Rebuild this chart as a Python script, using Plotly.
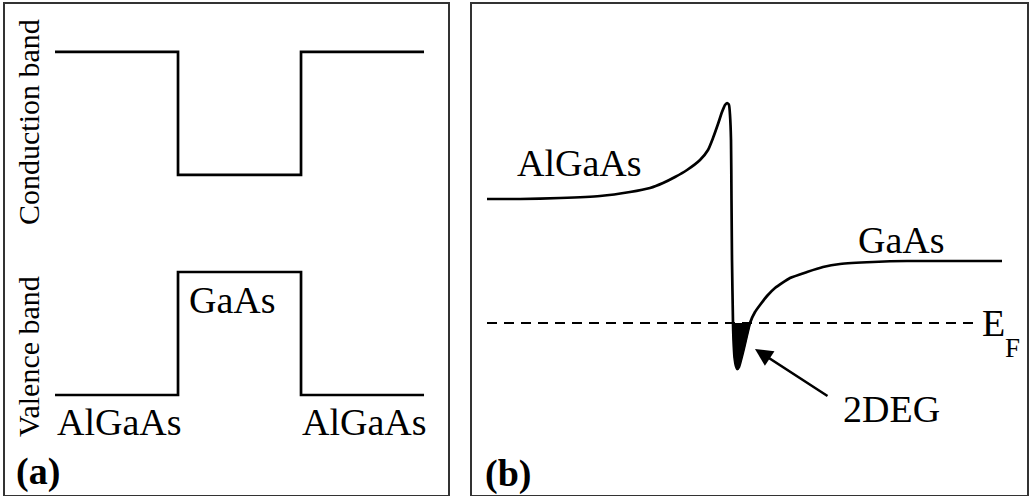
import numpy as np
import plotly.graph_objects as go

# ---------------- data ----------------
# panel (a): square-well band diagram (position units, energy units)
a_x = [0, 3, 3, 6, 6, 9]
a_conduction = [2.79, 2.79, 1.79, 1.79, 2.79, 2.79]
a_valence = [0, 0, 1, 1, 0, 0]

# panel (b): conduction band edge across the AlGaAs/GaAs heterojunction (E relative to E_F)
b_x = [-24.3, -21.0, -17.0, -13.0, -10.0, -8.0, -6.7, -5.5, -4.3, -3.0, -2.2, -1.7, -1.2,
       -0.8, -0.5, -0.3, -0.1, 0.0, 0.1, 0.15, 0.2, 0.3, 0.35, 0.45, 0.6, 0.75, 0.9, 1.1,
       1.4, 1.7, 2.0, 2.5, 3.0, 3.7, 4.5, 6.0, 7.7, 9.3, 11.0, 14.3, 17.7, 27.2]
b_E = [1.24, 1.24, 1.25, 1.27, 1.31, 1.35, 1.40, 1.46, 1.53, 1.63, 1.73, 1.85, 1.99,
       2.11, 2.18, 2.20, 2.18, 2.08, 1.83, 1.23, 0.63, 0.0, -0.17, -0.34, -0.43, -0.46,
       -0.44, -0.37, -0.25, -0.12, 0.0, 0.11, 0.18, 0.27, 0.35, 0.45, 0.51, 0.56, 0.59,
       0.61, 0.62, 0.62]
fermi_x = [-24.3, 24.5]
fermi_E = [0, 0]

FONT = "Liberation Serif"
W, H = 1029, 496

fig = go.Figure()

# panel (a)
for band in (a_conduction, a_valence):
    fig.add_trace(go.Scatter(x=a_x, y=band, mode="lines",
                             line=dict(color="black", width=2.7), xaxis="x", yaxis="y",
                             hoverinfo="skip"))

# panel (b): 2DEG fill (part of the well below E_F)
bx = np.array(b_x)
bE = np.array(b_E)
mask = (bE <= 0) & (bx > 0) & (bx < 5)
fig.add_trace(go.Scatter(x=bx[mask], y=bE[mask], mode="lines", fill="toself",
                         fillcolor="black", line=dict(color="black", width=1.5),
                         xaxis="x2", yaxis="y2", hoverinfo="skip"))
fig.add_trace(go.Scatter(x=fermi_x, y=fermi_E, mode="lines",
                         line=dict(color="black", width=2, dash="10px,7px"),
                         xaxis="x2", yaxis="y2", hoverinfo="skip"))
fig.add_trace(go.Scatter(x=b_x, y=b_E, mode="lines",
                         line=dict(color="black", width=2.7, shape="spline", smoothing=0.5),
                         xaxis="x2", yaxis="y2", hoverinfo="skip"))

ax_common = dict(showgrid=False, zeroline=False, showticklabels=False, ticks="",
                 showline=True, linecolor="#333333", linewidth=1.5, mirror=True,
                 fixedrange=True)

fig.update_layout(
    width=W, height=H,
    margin=dict(l=0, r=0, t=0, b=0),
    paper_bgcolor="white", plot_bgcolor="white",
    showlegend=False,
    xaxis=dict(domain=[5 / W, 448 / W], range=[-1.22, 9.585], **ax_common),
    yaxis=dict(domain=[1 - 495 / H, 1 - 4 / H], range=[-0.813, 3.179], **ax_common),
    xaxis2=dict(domain=[472 / W, 1027 / W], range=[-25.8, 29.7], anchor="y2", **ax_common),
    yaxis2=dict(domain=[1 - 495 / H, 1 - 4 / H], range=[-1.72, 3.19], anchor="x2", **ax_common),
)

f38 = dict(family=FONT, size=38, color="black")
f26 = dict(family=FONT, size=27, color="black")
f30 = dict(family=FONT, size=30, color="black")

annotations = [
    # panel (a)
    dict(x=1.57, y=-0.22, xref="x", yref="y", text="AlGaAs", font=f38, showarrow=False),
    dict(x=7.55, y=-0.22, xref="x", yref="y", text="AlGaAs", font=f38, showarrow=False),
    dict(x=4.34, y=0.77, xref="x", yref="y", text="GaAs", font=f38, showarrow=False),
    dict(x=-0.634, y=2.22, xref="x", yref="y", text="Conduction band", font=f30,
         textangle=-90, showarrow=False),
    dict(x=-0.634, y=0.31, xref="x", yref="y", text="Valence band", font=f30,
         textangle=-90, showarrow=False),
    dict(x=-0.41, y=-0.62, xref="x", yref="y", text="<b>(a)</b>", font=f38, showarrow=False),
    # panel (b)
    dict(x=-15.1, y=1.60, xref="x2", yref="y2", text="AlGaAs", font=f38, showarrow=False),
    dict(x=17.1, y=0.83, xref="x2", yref="y2", text="GaAs", font=f38, showarrow=False),
    dict(x=25.0, y=0.0, xref="x2", yref="y2", xanchor="left",
         text="E", font=f38, showarrow=False),
    dict(x=27.3, y=-0.25, xref="x2", yref="y2", xanchor="left",
         text="F", font=f26, showarrow=False),
    dict(x=16.1, y=-0.86, xref="x2", yref="y2", text="2DEG", font=f38, showarrow=False),
    dict(x=2.5, y=-0.26, xref="x2", yref="y2", ax=9.9, ay=-0.74, axref="x2", ayref="y2",
         text="", showarrow=True, arrowhead=2, arrowsize=1.4, arrowwidth=2.5,
         arrowcolor="black", standoff=0),
    dict(x=-22.2, y=-1.5, xref="x2", yref="y2", text="<b>(b)</b>", font=f38, showarrow=False),
]
fig.update_layout(annotations=annotations)

fig.write_html("out.html")
